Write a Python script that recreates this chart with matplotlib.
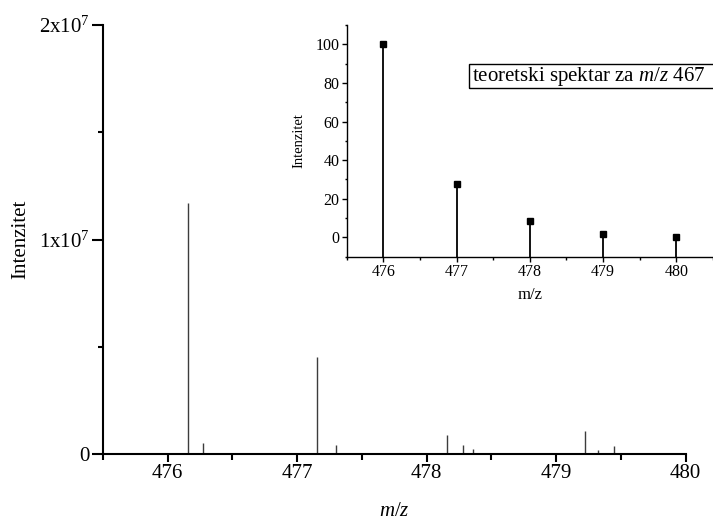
import matplotlib
matplotlib.use("Agg")
import matplotlib.pyplot as plt
from matplotlib.ticker import MultipleLocator, FixedLocator
from matplotlib.patches import Rectangle

plt.rcParams['font.family'] = ['Liberation Serif', 'DejaVu Serif']
plt.rcParams['mathtext.fontset'] = 'custom'
plt.rcParams['mathtext.rm'] = 'Liberation Serif'
plt.rcParams['mathtext.it'] = 'Liberation Serif:italic'

# Measured spectrum (main plot)
mz_measured = [476.16, 476.27, 477.155, 477.30, 478.155, 478.28, 478.36, 479.22, 479.32, 479.45]
int_measured = [1.170e7, 5.3e5, 4.54e6, 4.2e5, 8.9e5, 4.2e5, 2.2e5, 1.06e6, 1.9e5, 3.6e5]

# Theoretical spectrum (inset)
mz_theory = [476, 477, 478, 479, 480]
int_theory = [100, 27.7, 8.7, 1.8, 0.2]

main_xticks = [476, 477, 478, 479, 480]
main_yticks = [0, 1e7, 2e7]
main_yticklabels = ["0", "1x10$^7$", "2x10$^7$"]
inset_yticks = [0, 20, 40, 60, 80, 100]

fig = plt.figure(figsize=(7.13, 5.21), dpi=100)

ax = fig.add_axes([103/713, (521-454)/521, 582.7/713, 429/521])
ax.vlines(mz_measured, 0, int_measured, color='#3c3c3c', lw=1.0)
ax.set_xlim(475.5, 480)
ax.set_ylim(0, 2e7)
ax.spines['top'].set_visible(False)
ax.spines['right'].set_visible(False)
for s in ('left', 'bottom'):
    ax.spines[s].set_linewidth(1.5)
ax.set_xticks(main_xticks)
ax.set_xticklabels([str(v) for v in main_xticks])
ax.xaxis.set_minor_locator(MultipleLocator(0.5))
ax.set_yticks(main_yticks)
ax.set_yticklabels(main_yticklabels)
ax.yaxis.set_minor_locator(FixedLocator([5e6, 1.5e7]))
ax.tick_params(axis='x', which='major', length=6, width=1.5, labelsize=15, pad=1)
ax.tick_params(axis='x', which='minor', length=4, width=1.5)
ax.tick_params(axis='y', which='major', length=8, width=1.5, labelsize=15, pad=1.5)
ax.tick_params(axis='y', which='minor', length=3.4, width=1.5)
ax.set_xlabel("$m/z$", fontsize=15, labelpad=14)
ax.set_ylabel("Intenzitet", fontsize=15, labelpad=6)
ax.patch.set_alpha(0)

ins = fig.add_axes([346.7/713, (521-256.7)/521, 366.3/713, 231.7/521])
ins.vlines(mz_theory, -10, int_theory, color='black', lw=1.3)
ins.plot(mz_theory, int_theory, 's', color='black', markersize=4.5, linestyle='none')
ins.set_xlim(475.5, 480.5)
ins.set_ylim(-10, 110)
ins.spines['top'].set_visible(False)
ins.spines['right'].set_visible(False)
for s in ('left', 'bottom'):
    ins.spines[s].set_linewidth(1.0)
ins.set_xticks(mz_theory)
ins.xaxis.set_minor_locator(MultipleLocator(0.5))
ins.set_yticks(inset_yticks)
ins.yaxis.set_minor_locator(MultipleLocator(10))
ins.tick_params(which='major', length=3.6, width=1.0, labelsize=11.5, pad=1.5)
ins.tick_params(which='minor', length=1.8, width=1.0)
ins.set_xlabel("m/z", fontsize=12, labelpad=5)
ins.set_ylabel("Intenzitet", fontsize=10.5, labelpad=7)
ins.patch.set_alpha(0)

fig.patches.append(Rectangle((469/713, (521-88.3)/521), 300/713, 24/521,
                             transform=fig.transFigure, fill=False,
                             edgecolor='black', lw=1.0))
fig.text(472/713, (521-76.3)/521, "teoretski spektar za $m/z$ 467",
         fontsize=15, va='center', ha='left')

fig.savefig("out.png", dpi=100)
